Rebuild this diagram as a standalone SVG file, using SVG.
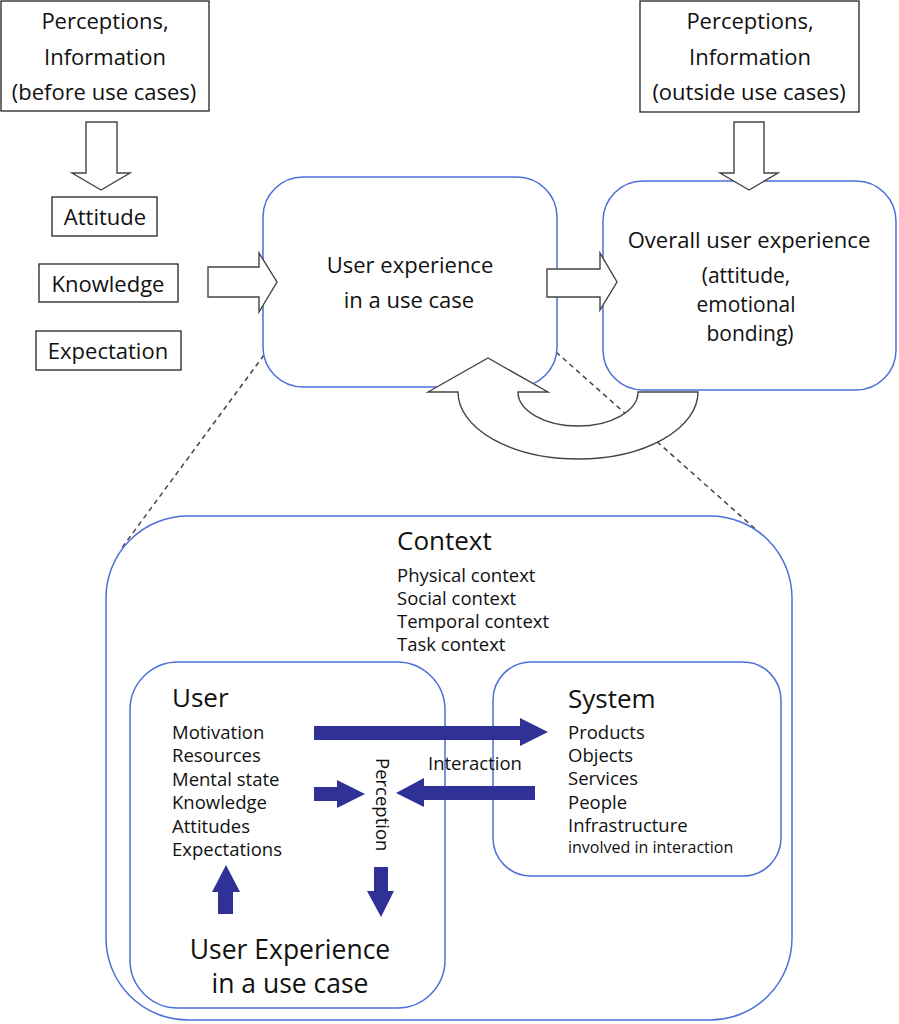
<svg xmlns="http://www.w3.org/2000/svg" width="899" height="1024" viewBox="0 0 899 1024">
<style>
text{font-family:"Open Sans","Noto Sans","DejaVu Sans",sans-serif;fill:#111;}
.c{text-anchor:middle;}
.t22{font-size:22px;}
.t21{font-size:21px;}
.t18{font-size:18.5px;}
.t26{font-size:26px;}
.bb{fill:#fff;stroke:#222;stroke-width:1.3;}
.rb{fill:#fff;stroke:#4d6fd8;stroke-width:1.5;}
.ha{fill:#fff;stroke:#444;stroke-width:1.4;stroke-linejoin:miter;}
.ba{fill:#2f3196;stroke:none;}
.dash{stroke:#444;stroke-width:1.5;stroke-dasharray:5 4;fill:none;}
</style>
<rect width="899" height="1024" fill="#fff"/>
<g id="connectors">
<line class="dash" x1="264" y1="355" x2="121" y2="549"/>
<line class="dash" x1="556" y1="352" x2="761" y2="534"/>
</g>
<g id="before-box">
<rect class="bb" x="1" y="1" width="208" height="110"/>
<text class="c t22" x="105" y="29">Perceptions,</text>
<text class="c t22" x="105" y="65">Information</text>
<text class="c t22" x="104" y="100">(before use cases)</text>
</g>
<g id="outside-box">
<rect class="bb" x="640" y="1" width="219" height="111"/>
<text class="c t22" x="750" y="29">Perceptions,</text>
<text class="c t22" x="750" y="65">Information</text>
<text class="c t22" x="749" y="100">(outside use cases)</text>
</g>
<g id="attitude">
<rect class="bb" x="52" y="197" width="105" height="39"/>
<text class="c t22" x="105" y="225">Attitude</text>
</g>
<g id="knowledge">
<rect class="bb" x="39" y="264" width="139" height="38"/>
<text class="c t22" x="108" y="292">Knowledge</text>
</g>
<g id="expectation">
<rect class="bb" x="36" y="331" width="145" height="39"/>
<text class="c t22" x="108" y="359">Expectation</text>
</g>
<g id="context">
<rect class="rb" x="106" y="516" width="686" height="504" rx="82" ry="82"/>
<text class="t26" x="397" y="550">Context</text>
<text class="t18" x="397" y="582">Physical context</text>
<text class="t18" x="397" y="605">Social context</text>
<text class="t18" x="397" y="628">Temporal context</text>
<text class="t18" x="397" y="651">Task context</text>
</g>
<g id="user">
<rect class="rb" x="130" y="662" width="315" height="346" rx="48" ry="48"/>
<text class="t26" x="172" y="707">User</text>
<text class="t18" x="172" y="739">Motivation</text>
<text class="t18" x="172" y="762">Resources</text>
<text class="t18" x="172" y="786">Mental state</text>
<text class="t18" x="172" y="809">Knowledge</text>
<text class="t18" x="172" y="833">Attitudes</text>
<text class="t18" x="172" y="856">Expectations</text>
<text class="c" x="290" y="959" style="font-size:26.5px">User Experience</text>
<text class="c" x="290" y="993" style="font-size:26.5px">in a use case</text>
</g>
<g id="system">
<rect class="rb" x="493" y="662" width="288" height="214" rx="38" ry="38"/>
<text class="t26" x="568" y="708">System</text>
<text class="t18" x="568" y="739">Products</text>
<text class="t18" x="568" y="762">Objects</text>
<text class="t18" x="568" y="785">Services</text>
<text class="t18" x="568" y="809">People</text>
<text class="t18" x="568" y="832">Infrastructure</text>
<text x="568" y="853" style="font-size:16px">involved in interaction</text>
</g>
<g id="use-case">
<rect class="rb" x="263" y="177" width="294" height="210" rx="40" ry="40"/>
<text class="c t22" x="410" y="273">User experience</text>
<text class="c t22" x="409" y="308">in a use case</text>
</g>
<g id="overall">
<rect class="rb" x="603" y="181" width="293" height="209" rx="40" ry="40"/>
<text class="c t22" x="749" y="248">Overall user experience</text>
<text class="c t21" x="746" y="283">(attitude,</text>
<text class="c t21" x="746" y="312">emotional</text>
<text class="c t21" x="750" y="341">bonding)</text>
</g>
<g id="arrows">
<path class="ha" d="M86,122 H117 V173 H130 L101,190 L72,173 H86 Z"/>
<path class="ha" d="M734,122 H764 V173 H778 L749,190 L720,173 H734 Z"/>
<path class="ha" d="M208,267 H259 V253 L277,282 L259,312 V297 H208 Z"/>
<path class="ha" d="M547,269 H600 V253 L617,282 L600,310 V297 H547 Z"/>
<path class="ha" d="M428,392 L488,358 L548,392 L518,392 A60,34 0 0 0 638,392 L698,392 A120,67 0 0 1 458,392 Z"/>
<path class="ba" d="M314,726 H520 V718 L548,732 L520,746 V740 H314 Z"/>
<path class="ba" d="M535,786 H424 V778 L396,793 L424,807 V800 H535 Z"/>
<path class="ba" d="M314,787 H337 V780 L365,794 L337,808 V801 H314 Z"/>
<path class="ba" d="M218,914 V892 H212 L226,865 L240,892 H233 V914 Z"/>
<path class="ba" d="M374,867 H388 V891 H394 L381,917 L367,891 H374 Z"/>
<text class="t18" x="428" y="770">Interaction</text>
<text class="t18" transform="translate(376,758) rotate(90)">Perception</text>
</g>
</svg>
